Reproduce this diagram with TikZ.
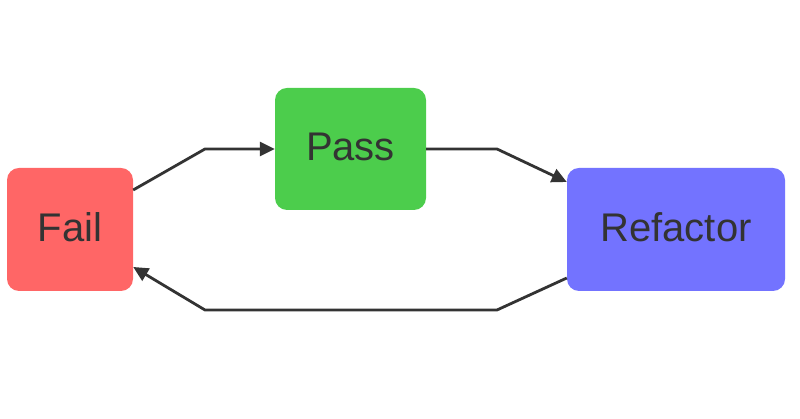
\documentclass[tikz,border=0pt]{standalone}
\usepackage{fontspec}
\setmainfont{Liberation Sans}
\usetikzlibrary{arrows.meta}
\definecolor{failc}{HTML}{FF6666}
\definecolor{passc}{HTML}{4CCD4C}
\definecolor{refc}{HTML}{7373FF}
\definecolor{inkc}{HTML}{333333}
\begin{document}
\begin{tikzpicture}[x=1pt,y=1pt,
  box/.style={rounded corners=12pt, inner sep=0pt, text=inkc, text depth=5pt,
    font=\fontsize{40}{44}\selectfont},
  conn/.style={draw=inkc, line width=2.8pt, line join=miter,
    -{Triangle[length=15pt,width=14pt]}}]
\useasboundingbox (0,0) rectangle (800,419);
\node[box, fill=failc, minimum width=126pt, minimum height=123pt] (fail) at (70,189.5) {Fail};
\node[box, fill=passc, minimum width=151pt, minimum height=122pt] (pass) at (350.5,270) {Pass};
\node[box, fill=refc, minimum width=218pt, minimum height=123pt] (refactor) at (676,189.5) {Refactor};
\coordinate (c1) at (205,270);
\coordinate (c2) at (497,270);
\coordinate (c3) at (497,109);
\coordinate (c4) at (205,109);
\draw[conn] ([yshift=39.5pt]fail.east) -- (c1) -- (pass.west);
\draw[conn] (pass.east) -- (c2) -- ([yshift=47.5pt]refactor.west);
\draw[conn] ([yshift=-48.5pt]refactor.west) -- (c3) -- (c4) -- ([yshift=-37.5pt]fail.east);
\end{tikzpicture}
\end{document}
